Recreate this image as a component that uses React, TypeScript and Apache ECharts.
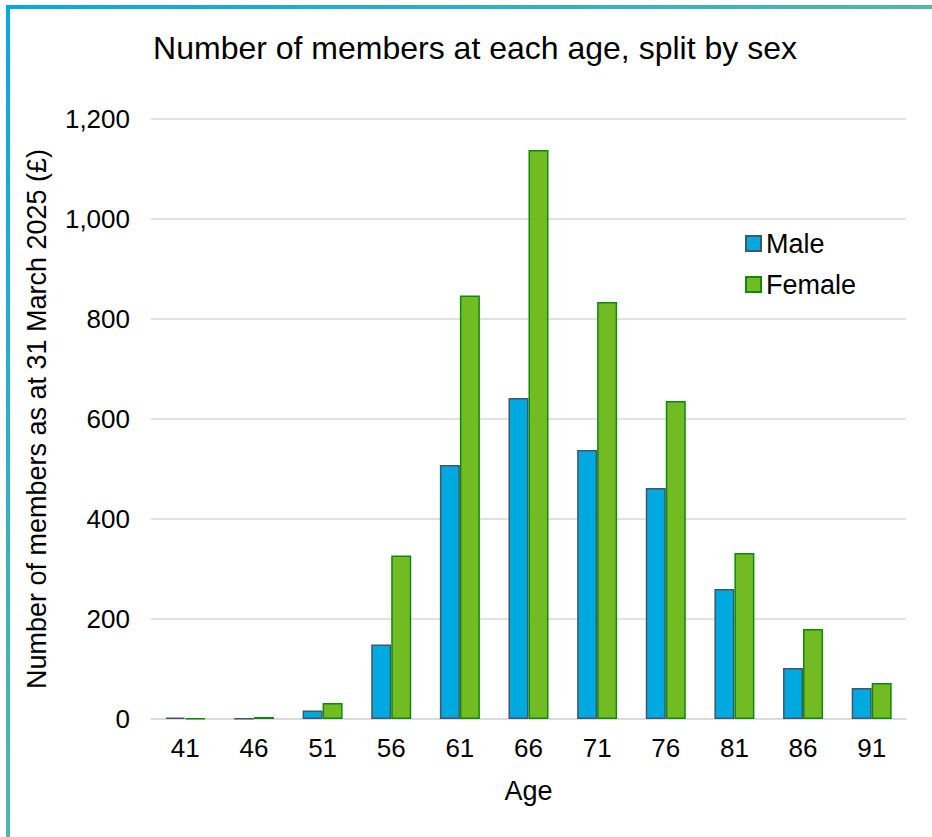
import React, { useEffect, useRef } from "react";
import * as echarts from "echarts";

const titleText = "Number of members at each age, split by sex";
const ages = ["41", "46", "51", "56", "61", "66", "71", "76", "81", "86", "91"];
const maleValues = [3, 1, 17, 149, 508, 642, 538, 462, 260, 102, 62];
const femaleValues = [1, 4, 32, 327, 847, 1138, 834, 636, 332, 180, 72];
const seriesNames = ["Male", "Female"];
const yAxisTitle = "Number of members as at 31 March 2025 (£)";
const xAxisTitle = "Age";

const FONT = "'Liberation Sans', Arial, sans-serif";

export default function App() {
  const ref = useRef<HTMLDivElement>(null);
  useEffect(() => {
    if (!ref.current) return;
    const chart = echarts.init(ref.current, null, { renderer: "svg" });
    const grad = (x2: number, y2: number) =>
      new echarts.graphic.LinearGradient(0, 0, x2, y2, [
        { offset: 0, color: "#05aae2" },
        { offset: 1, color: "#4fb7ab" },
      ]);
    chart.setOption({
      animation: false,
      backgroundColor: "#ffffff",
      textStyle: { fontFamily: FONT },
      title: {
        text: titleText,
        left: 470,
        textAlign: "center",
        top: 27,
        textStyle: { fontFamily: FONT, fontSize: 32, fontWeight: "normal", color: "#000000" },
      },
      graphic: [
        { type: "rect", shape: { x: 6, y: 5, width: 926, height: 4 }, style: { fill: grad(1, 0) } },
        { type: "rect", shape: { x: 6, y: 5, width: 4, height: 832 }, style: { fill: grad(0, 1) } },
      ],
      legend: {
        orient: "vertical",
        left: 740,
        top: 225,
        icon: "rect",
        itemWidth: 15,
        itemHeight: 15,
        itemGap: 14,
        textStyle: { fontFamily: FONT, fontSize: 27, color: "#000000" },
        data: seriesNames,
      },
      grid: { left: 151, right: 26, top: 119, bottom: 118, containLabel: false },
      xAxis: {
        type: "category",
        data: ages,
        name: xAxisTitle,
        nameLocation: "middle",
        nameGap: 58,
        nameTextStyle: { fontFamily: FONT, fontSize: 27, color: "#000000" },
        axisLine: { lineStyle: { color: "#d9d9d9", width: 1.5 } },
        axisTick: { show: false },
        axisLabel: { fontFamily: FONT, fontSize: 26, color: "#000000", margin: 16 },
      },
      yAxis: {
        type: "value",
        min: 0,
        max: 1200,
        interval: 200,
        name: yAxisTitle,
        nameLocation: "middle",
        nameGap: 101,
        nameTextStyle: { fontFamily: FONT, fontSize: 27, color: "#000000" },
        axisLine: { show: false },
        axisTick: { show: false },
        splitLine: { lineStyle: { color: "#d9d9d9", width: 1.5 } },
        axisLabel: {
          fontFamily: FONT,
          fontSize: 26,
          color: "#000000",
          margin: 21,
          formatter: (v: number) => v.toLocaleString("en-US"),
        },
      },
      series: [
        {
          name: seriesNames[0],
          type: "bar",
          data: maleValues,
          barWidth: 20,
          barGap: "0%",
          itemStyle: { color: "#00aae0", borderColor: "#44546a", borderWidth: 1.5 },
        },
        {
          name: seriesNames[1],
          type: "bar",
          data: femaleValues,
          barWidth: 20,
          barGap: "0%",
          itemStyle: { color: "#72bb22", borderColor: "#0b8a0b", borderWidth: 1.5 },
        },
      ],
    });
    return () => chart.dispose();
  }, []);
  return (
    <div
      ref={ref}
      style={{ position: "absolute", left: 0, top: 0, width: 932, height: 837 }}
    />
  );
}
